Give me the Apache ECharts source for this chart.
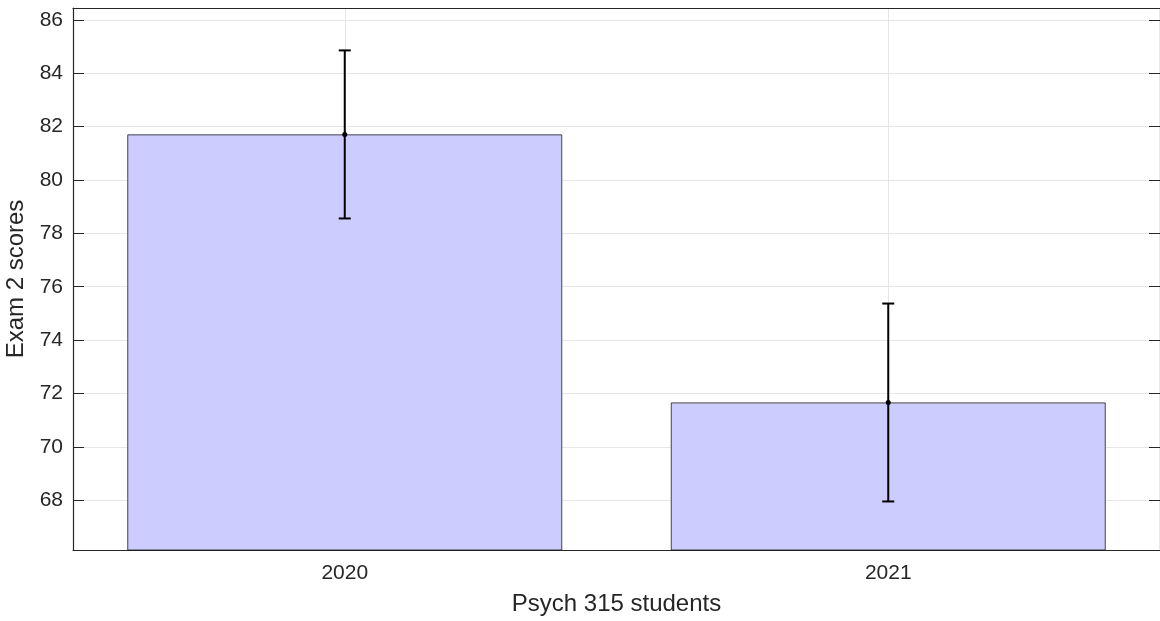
<!DOCTYPE html>
<html>
<head>
<meta charset="utf-8">
<script src="https://cdn.jsdelivr.net/npm/echarts@6/dist/echarts.min.js"></script>
<style>
  html, body { margin: 0; padding: 0; background: #fff; }
  #chart { width: 1160px; height: 621px; }
</style>
</head>
<body>
<div id="chart"></div>
<script>
var years = ['2020', '2021'];
var means = [81.71, 71.66];
var errs = [3.15, 3.71];
var yTicks = [68, 70, 72, 74, 76, 78, 80, 82, 84, 86];

var myChart = echarts.init(document.getElementById('chart'));
var textColor = '#262626';
var axisColor = '#262626';
var gridColor = '#e6e6e6';

var errData = means.map(function (m, i) { return [i, m, m - errs[i], m + errs[i]]; });

var option = {
  animation: false,
  grid: { left: 73, right: 0, top: 8, bottom: 71, containLabel: false, outerBoundsMode: 'none' },
  xAxis: [
    {
      type: 'category',
      data: years,
      position: 'bottom',
      boundaryGap: true,
      name: 'Psych 315 students',
      nameLocation: 'middle',
      nameGap: 42,
      nameTextStyle: { color: textColor, fontSize: 24, fontFamily: 'Liberation Sans, Arial' },
      axisLine: { lineStyle: { color: axisColor, width: 1.2 } },
      axisTick: { inside: true, alignWithLabel: true, length: 10, lineStyle: { color: axisColor } },
      axisLabel: { color: textColor, fontSize: 21, margin: 13, fontFamily: 'Liberation Sans, Arial' },
      splitLine: { show: true, alignWithLabel: true, lineStyle: { color: gridColor, width: 1 } }
    },
    {
      type: 'category',
      data: years,
      position: 'top',
      boundaryGap: true,
      axisLine: { lineStyle: { color: axisColor, width: 1.2 } },
      axisTick: { inside: true, alignWithLabel: true, length: 10, lineStyle: { color: axisColor } },
      axisLabel: { show: false },
      splitLine: { show: false }
    }
  ],
  yAxis: [
    {
      type: 'value',
      min: 66.13,
      max: 86.45,
      position: 'left',
      name: 'Exam 2 scores',
      nameLocation: 'middle',
      nameGap: 39,
      nameTextStyle: { color: textColor, fontSize: 24, fontFamily: 'Liberation Sans, Arial' },
      axisLine: { show: true, lineStyle: { color: axisColor, width: 1.2 } },
      axisTick: { show: true, inside: true, length: 11, customValues: yTicks, lineStyle: { color: axisColor } },
      axisLabel: { color: textColor, fontSize: 21, margin: 10, customValues: yTicks, fontFamily: 'Liberation Sans, Arial' },
      splitLine: { show: true, lineStyle: { color: gridColor, width: 1 } }
    },
    {
      type: 'value',
      min: 66.13,
      max: 86.45,
      position: 'right',
      axisLine: { show: true, lineStyle: { color: axisColor, width: 1.2 } },
      axisTick: { show: true, inside: true, length: 11, customValues: yTicks, lineStyle: { color: axisColor } },
      axisLabel: { show: false },
      splitLine: { show: false }
    }
  ],
  series: [
    {
      name: 'scores',
      type: 'bar',
      barWidth: '80%',
      data: means,
      itemStyle: { color: '#ccccff', borderColor: '#1a1a1a', borderWidth: 0.8 },
      z: 2
    },
    {
      name: 'error',
      type: 'custom',
      data: errData,
      z: 5,
      renderItem: function (params, api) {
        var x = api.value(0);
        var mid = api.coord([x, api.value(1)]);
        var lo = api.coord([x, api.value(2)]);
        var hi = api.coord([x, api.value(3)]);
        var cap = 6;
        var st = { stroke: '#000', lineWidth: 2 };
        return {
          type: 'group',
          children: [
            { type: 'line', shape: { x1: lo[0], y1: lo[1], x2: hi[0], y2: hi[1] }, style: st },
            { type: 'line', shape: { x1: lo[0] - cap, y1: lo[1], x2: lo[0] + cap, y2: lo[1] }, style: st },
            { type: 'line', shape: { x1: hi[0] - cap, y1: hi[1], x2: hi[0] + cap, y2: hi[1] }, style: st },
            { type: 'circle', shape: { cx: mid[0], cy: mid[1], r: 2.5 }, style: { fill: '#000' } }
          ]
        };
      }
    }
  ]
};
myChart.setOption(option);
window.addEventListener('resize', function () { myChart.resize(); });
</script>
</body>
</html>
